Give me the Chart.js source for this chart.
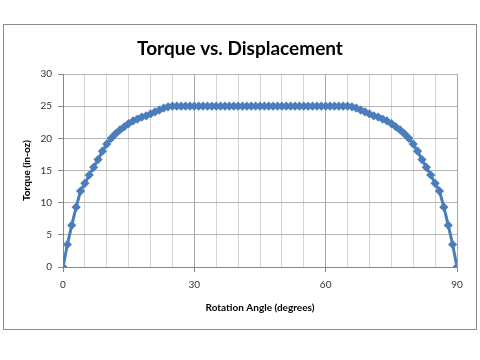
<!DOCTYPE html>
<html>
<head>
<meta charset="utf-8">
<script src="https://cdn.jsdelivr.net/npm/chart.js@4/dist/chart.umd.min.js"></script>
<style>
  html, body { margin: 0; padding: 0; background: #ffffff; }
  #frame { position: absolute; left: 3px; top: 24px; width: 472px; height: 304px; border: 1px solid #8c8c8c; background: #fff; }
  canvas { display: block; }
</style>
</head>
<body>
<div id="frame"><canvas id="c" width="472" height="304"></canvas></div>
<script>
const chartTitle = "Torque vs. Displacement";
const xTitle = "Rotation Angle (degrees)";
const yTitle = "Torque (in-oz)";

const angles = [0,1,2,3,4,5,6,7,8,9,10,11,12,13,14,15,16,17,18,19,20,21,22,23,24,25,26,27,28,29,30,
  31,32,33,34,35,36,37,38,39,40,41,42,43,44,45,46,47,48,49,50,51,52,53,54,55,56,57,58,59,60,
  61,62,63,64,65,66,67,68,69,70,71,72,73,74,75,76,77,78,79,80,81,82,83,84,85,86,87,88,89,90];

const torque = [0, 3.5, 6.5, 9.3, 11.8, 13.0, 14.3, 15.5, 16.7, 18.0, 19.1, 20.0, 20.7, 21.3, 21.8, 22.3, 22.7, 23.0, 23.3, 23.5, 23.8, 24.1, 24.4, 24.7, 24.9,
  25, 25, 25, 25, 25, 25, 25, 25, 25, 25, 25, 25, 25, 25, 25, 25, 25, 25, 25, 25, 25,
  25, 25, 25, 25, 25, 25, 25, 25, 25, 25, 25, 25, 25, 25, 25, 25, 25, 25, 25, 25,
  24.9, 24.7, 24.4, 24.1, 23.8, 23.5, 23.3, 23.0, 22.7, 22.3, 21.8, 21.3, 20.7, 20.0, 19.1, 18.0, 16.7, 15.5, 14.3, 13.0, 11.8, 9.3, 6.5, 3.5, 0];

const xMin = 0, xMax = 90, xStep = 5, xLabelEvery = 30;
const yMin = 0, yMax = 30, yStep = 5;

const points = angles.map((a, i) => ({x: a, y: torque[i]}));
const FONT = "Lato, 'Open Sans', sans-serif";

new Chart(document.getElementById('c'), {
  type: 'line',
  data: {
    datasets: [{
      data: points,
      borderColor: '#4a7ebb',
      backgroundColor: '#4a7ebb',
      borderWidth: 3,
      pointStyle: 'rectRot',
      pointRadius: 4.6,
      pointBorderWidth: 0,
      tension: 0,
      fill: false
    }]
  },
  options: {
    responsive: false,
    animation: false,
    layout: { padding: 0 },
    plugins: {
      legend: { display: false },
      tooltip: { enabled: false },
      title: {
        display: true,
        text: chartTitle,
        color: '#000',
        font: { family: FONT, size: 19, weight: 'bold', lineHeight: 1.2 },
        padding: { top: 12, bottom: 14.2 }
      }
    },
    scales: {
      x: {
        type: 'linear',
        min: xMin, max: xMax,
        afterFit: s => { s.height = 62; },
        ticks: {
          stepSize: xStep,
          autoSkip: false,
          maxRotation: 0,
          padding: 7,
          color: '#333',
          font: { family: FONT, size: 10 },
          callback: v => (v % xLabelEvery === 0 ? String(v) : '')
        },
        grid: {
          color: c => (c.tick && c.tick.value % xLabelEvery === 0 ? '#a6a6a6' : '#d4d4d4'),
          tickColor: c => (c.tick && c.tick.value % xLabelEvery === 0 ? '#868686' : 'rgba(0,0,0,0)'),
          tickLength: 5,
          lineWidth: 1
        },
        border: { display: true, color: '#868686', width: 1 },
        title: {
          display: true,
          text: xTitle,
          color: '#000',
          font: { family: FONT, size: 10, weight: 'bold', lineHeight: 1.2 },
          padding: { top: 15, bottom: 15 }
        }
      },
      y: {
        type: 'linear',
        min: yMin, max: yMax,
        afterFit: s => { s.width = 59; },
        ticks: {
          stepSize: yStep,
          padding: 6,
          color: '#333',
          font: { family: FONT, size: 10 }
        },
        grid: {
          color: '#b4b4b4',
          tickColor: '#868686',
          tickLength: 5,
          lineWidth: 1
        },
        border: { display: true, color: '#868686', width: 1 },
        title: {
          display: true,
          text: yTitle,
          color: '#000',
          font: { family: FONT, size: 10, weight: 'bold', lineHeight: 1.2 },
          padding: { top: 17, bottom: 0 }
        }
      },
      yRight: {
        type: 'linear',
        position: 'right',
        min: yMin, max: yMax,
        afterFit: s => { s.width = 19; },
        ticks: { display: false },
        grid: { display: false, drawTicks: false },
        border: { display: false },
        title: { display: false }
      }
    }
  }
});
</script>
</body>
</html>
